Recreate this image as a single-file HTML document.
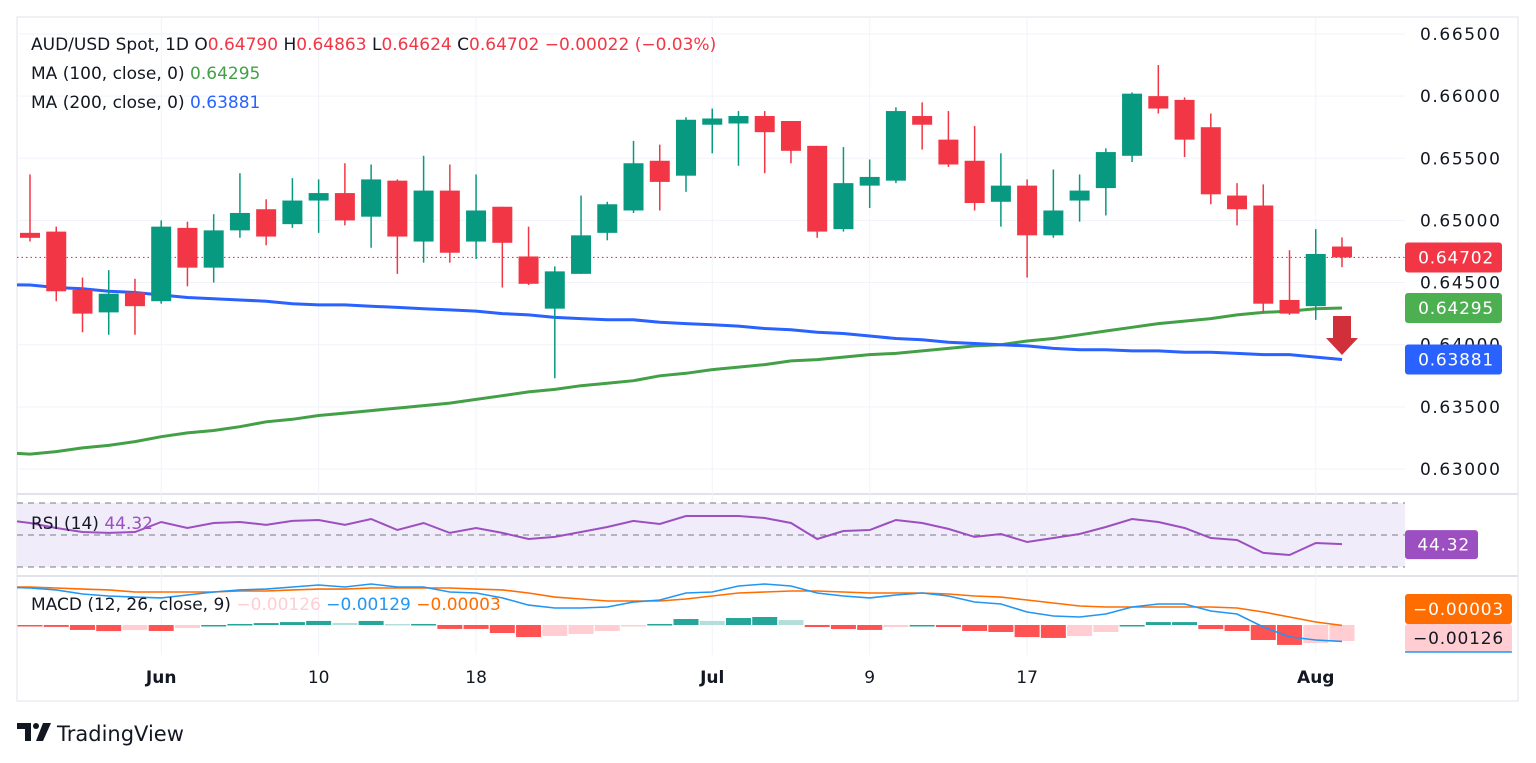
<!DOCTYPE html>
<html><head><meta charset="utf-8"><style>
html,body{margin:0;padding:0;background:#fff;width:1536px;height:763px;overflow:hidden;font-family:"DejaVu Sans","Liberation Sans",sans-serif;}
svg text{font-family:"DejaVu Sans","Liberation Sans",sans-serif;}
</style></head><body>
<svg id="c" width="1536" height="763" viewBox="0 0 1536 763"></svg>
<script>
const opens=[0.6490,0.6491,0.6444,0.6426,0.6442,0.6435,0.6494,0.6462,0.6492,0.6509,0.6497,0.6516,0.6522,0.6503,0.6532,0.6483,0.6524,0.6483,0.6511,0.6471,0.6429,0.6457,0.6490,0.6508,0.6548,0.6536,0.6577,0.6578,0.6584,0.6580,0.6560,0.6493,0.6528,0.6532,0.6584,0.6565,0.6548,0.6515,0.6528,0.6488,0.6516,0.6526,0.6552,0.6600,0.6597,0.6575,0.6520,0.6512,0.6436,0.6431,0.64790];
const highs=[0.6537,0.6495,0.6454,0.6460,0.6453,0.6500,0.6499,0.6505,0.6538,0.6517,0.6534,0.6533,0.6546,0.6545,0.6533,0.6552,0.6545,0.6537,0.6511,0.6495,0.6463,0.6520,0.6515,0.6564,0.6561,0.6583,0.6590,0.6588,0.6588,0.6580,0.6560,0.6559,0.6549,0.6591,0.6595,0.6588,0.6576,0.6554,0.6533,0.6541,0.6537,0.6558,0.6603,0.6625,0.6599,0.6586,0.6530,0.6529,0.6476,0.6493,0.64863];
const lows=[0.6483,0.6435,0.6410,0.6408,0.6408,0.6433,0.6447,0.6450,0.6486,0.6480,0.6494,0.6490,0.6496,0.6478,0.6457,0.6466,0.6466,0.6469,0.6446,0.6448,0.6373,0.6457,0.6484,0.6506,0.6508,0.6523,0.6554,0.6544,0.6538,0.6546,0.6486,0.6491,0.6510,0.6530,0.6557,0.6543,0.6508,0.6495,0.6454,0.6486,0.6499,0.6504,0.6547,0.6586,0.6551,0.6513,0.6496,0.6426,0.6424,0.6420,0.64624];
const closes=[0.6486,0.6443,0.6425,0.6441,0.6431,0.6495,0.6462,0.6492,0.6506,0.6487,0.6516,0.6522,0.6500,0.6533,0.6487,0.6524,0.6474,0.6508,0.6482,0.6449,0.6459,0.6488,0.6513,0.6546,0.6531,0.6581,0.6582,0.6584,0.6571,0.6556,0.6491,0.6530,0.6535,0.6588,0.6577,0.6545,0.6514,0.6528,0.6488,0.6508,0.6524,0.6555,0.6602,0.6590,0.6565,0.6521,0.6509,0.6433,0.6425,0.6473,0.64702];
const ma100=[0.6312,0.6314,0.6317,0.6319,0.6322,0.6326,0.6329,0.6331,0.6334,0.6338,0.6340,0.6343,0.6345,0.6347,0.6349,0.6351,0.6353,0.6356,0.6359,0.6362,0.6364,0.6367,0.6369,0.6371,0.6375,0.6377,0.6380,0.6382,0.6384,0.6387,0.6388,0.6390,0.6392,0.6393,0.6395,0.6397,0.6399,0.6400,0.6403,0.6405,0.6408,0.6411,0.6414,0.6417,0.6419,0.6421,0.6424,0.6426,0.6427,0.6429,0.64295];
const ma200=[0.6448,0.6446,0.6445,0.6443,0.6442,0.6440,0.6438,0.6437,0.6436,0.6435,0.6433,0.6432,0.6432,0.6431,0.6430,0.6429,0.6428,0.6427,0.6425,0.6424,0.6422,0.6421,0.6420,0.6420,0.6418,0.6417,0.6416,0.6415,0.6413,0.6412,0.6410,0.6409,0.6407,0.6405,0.6404,0.6402,0.6401,0.6400,0.6399,0.6397,0.6396,0.6396,0.6395,0.6395,0.6394,0.6394,0.6393,0.6392,0.6392,0.6390,0.63881];
const rsi=[57.5,54.4,51.9,51.3,51.9,58.1,54.4,57.5,58.1,56.3,58.8,59.4,56.3,60,53.1,57.5,51.3,54.4,51.3,47.5,48.8,51.9,55,58.8,56.9,61.9,61.9,61.9,60.6,57.5,47.5,52.5,53.1,59.4,57.5,53.8,48.8,50.6,45.6,48.1,50.6,55,60,58.1,54.4,48.1,46.9,38.8,37.5,45,44.32];
const macd=[0.00291,0.00276,0.00244,0.00228,0.00220,0.00213,0.00236,0.00260,0.00276,0.00283,0.00299,0.00315,0.00299,0.00323,0.00299,0.00299,0.00260,0.00252,0.00213,0.00157,0.00134,0.00134,0.00142,0.00181,0.00197,0.00252,0.00260,0.00307,0.00323,0.00307,0.00252,0.00228,0.00213,0.00236,0.00252,0.00228,0.00181,0.00165,0.00102,0.00071,0.00063,0.00087,0.00142,0.00165,0.00165,0.00110,0.00087,-0.00016,-0.00094,-0.00118,-0.00129];
const signal=[0.00299,0.00291,0.00283,0.00276,0.00260,0.00260,0.00260,0.00260,0.00268,0.00268,0.00276,0.00283,0.00283,0.00291,0.00291,0.00291,0.00291,0.00283,0.00276,0.00252,0.00220,0.00205,0.00189,0.00189,0.00189,0.00205,0.00228,0.00252,0.00260,0.00268,0.00268,0.00260,0.00252,0.00252,0.00252,0.00244,0.00228,0.00220,0.00197,0.00173,0.00150,0.00142,0.00142,0.00142,0.00142,0.00142,0.00134,0.00102,0.00063,0.00024,-0.00003];
const priceTicks=[0.665,0.660,0.655,0.650,0.645,0.640,0.635,0.630];
const dateLabels=["Jun","10","18","Jul","9","17","Aug"];
const dateIdx=[5,11,17,26,32,38,49];

const NS="http://www.w3.org/2000/svg";
const svg=document.getElementById('c');
function el(t,a,p){const e=document.createElementNS(NS,t);for(const k in a)e.setAttribute(k,a[k]);(p||svg).appendChild(e);return e;}
const X=i=>30+i*26.24;
const Y=p=>34+(0.665-p)/0.005*62.14;
const RY=v=>503+(70-v)*1.6;
const MY=v=>625-v*12700;
const GREEN="#089981",RED="#f23645";

let f=el('rect',{x:17,y:17,width:1501,height:684,fill:'none',stroke:'#e0e3eb'});


el('line',{x1:17,y1:494,x2:1518,y2:494,stroke:'#e0e3eb','stroke-width':2});
el('line',{x1:17,y1:576,x2:1518,y2:576,stroke:'#e0e3eb','stroke-width':2});
const grid=el('g',{stroke:'#f0f3fa'});


priceTicks.forEach(p=>el('line',{x1:17,y1:Y(p),x2:1405,y2:Y(p)},grid));
dateIdx.forEach(i=>{el('line',{x1:X(i),y1:17,x2:X(i),y2:494},grid);el('line',{x1:X(i),y1:494,x2:X(i),y2:655},grid);});
priceTicks.forEach(p=>{const t=el('text',{x:1420,y:Y(p)+6,'font-size':17,fill:'#131722','letter-spacing':'1.6'});t.textContent=p.toFixed(5);

});
dateLabels.forEach((d,k)=>{const t=el('text',{x:X(dateIdx[k]),y:683,'font-size':17,fill:'#131722','text-anchor':'middle','font-weight':(isNaN(+d)?'bold':'normal')});t.textContent=d;

});
const last=closes[closes.length-1];
el('line',{x1:17,y1:Y(last),x2:1405,y2:Y(last),stroke:RED,'stroke-dasharray':'1.5 3','stroke-width':1.2});
function pathOf(arr,fy){return arr.map((v,i)=>(i?'L':'M')+X(i).toFixed(1)+' '+fy(v).toFixed(1)).join(' ');}
let m1=el('path',{d:'M17 '+Y(ma100[0]+0.00005).toFixed(1)+' L'+pathOf(ma100,Y).slice(1),fill:'none',stroke:'#43a047','stroke-width':3});


let m2=el('path',{d:'M17 '+Y(ma200[0]+0.00001).toFixed(1)+' L'+pathOf(ma200,Y).slice(1),fill:'none',stroke:'#2962ff','stroke-width':3});


closes.forEach((c,i)=>{const o=opens[i],col=c>=o?GREEN:RED;const g=el('g',{});


el('line',{x1:X(i),x2:X(i),y1:Y(highs[i]),y2:Y(lows[i]),stroke:col,'stroke-width':1.5},g);
const t=Y(Math.max(o,c)),b=Y(Math.min(o,c));
el('rect',{x:X(i)-10,y:t,width:20,height:Math.max(1.5,b-t),fill:col},g);});
let ar=el('path',{d:'M1333 316 H1351 V338 H1358 L1342 355 L1326 338 H1333 Z',fill:'#d12f3a'});


function tag(y,h,w,bg,fg,txt,name){const g=el('g',{});


el('rect',{x:1405,y:y,width:w,height:h,rx:3,fill:bg},g);const t=el('text',{x:1405+w-8,y:y+h/2+6,'font-size':17,fill:fg,'text-anchor':'end','letter-spacing':'0.8'},g);t.textContent=txt;}
tag(Y(last)-15,30,97,RED,'#fff',last.toFixed(5),'last-price-tag');
tag(Y(ma100[50])-15,30,97,'#4caf50','#fff',ma100[50].toFixed(5),'ma100-tag');
tag(Y(ma200[50])-15,30,97,'#2962ff','#fff',ma200[50].toFixed(5),'ma200-tag');
let band=el('rect',{x:17,y:RY(70),width:1388,height:RY(30)-RY(70),fill:'#f0ecf9'});


[70,50,30].forEach(v=>el('line',{x1:17,x2:1405,y1:RY(v),y2:RY(v),stroke:'#787b86','stroke-dasharray':'6 5'}));
let rl=el('path',{d:'M17 '+RY(58.5)+' L'+pathOf(rsi,RY).slice(1),fill:'none',stroke:'#9c4fc0','stroke-width':2});


tag(RY(rsi[50])-14,29,73,'#9c4fc0','#fff',rsi[50].toFixed(2),'rsi-tag');
macd.forEach((m,i)=>{const h=m-signal[i],prev=i?macd[i-1]-signal[i-1]:h;let col;
if(h>=0)col=h>=prev?'#26a69a':'#b2dfdb';else col=h<=prev?'#ff5252':'#ffcdd2';
const y0=MY(0),y1=MY(h);const r=el('rect',{x:X(i)-12.5,y:Math.min(y0,y1),width:25,height:Math.max(1.5,Math.abs(y1-y0)),fill:col});

});
let sl=el('path',{d:'M17 '+MY(0.00299)+' L'+pathOf(signal,MY).slice(1),fill:'none',stroke:'#ff6d00','stroke-width':1.6});


let ml=el('path',{d:'M17 '+MY(0.00295)+' L'+pathOf(macd,MY).slice(1),fill:'none',stroke:'#2196f3','stroke-width':1.6});


tag(594,30,107,'#ff6d00','#fff','\u22120.00003','macd-signal-tag');
tag(624,28,107,'#ffcdd2','#131722','\u22120.00126','macd-hist-tag');
el('line',{x1:1405,x2:1512,y1:652,y2:652,stroke:'#2196f3','stroke-width':1.5});
function txt(x,y,parts,name,size){const t=el('text',{x:x,y:y,'font-size':size||17});


parts.forEach(([s,c])=>{const sp=el('tspan',{fill:c},t);sp.textContent=s;});}
txt(31,50,[['AUD/USD Spot, 1D  O','#131722'],['0.64790','#f23645'],['  H','#131722'],['0.64863','#f23645'],['  L','#131722'],['0.64624','#f23645'],['  C','#131722'],['0.64702  \u22120.00022 (\u22120.03%)','#f23645']],'symbol-legend');
txt(31,79,[['MA (100, close, 0)  ','#131722'],['0.64295','#43a047']],'ma100-legend');
txt(31,108,[['MA (200, close, 0)  ','#131722'],['0.63881','#2962ff']],'ma200-legend');
txt(31,529,[['RSI (14)  ','#131722'],['44.32','#9c4fc0']],'rsi-legend');
txt(31,610,[['MACD (12, 26, close, 9)  ','#131722'],['\u22120.00126','#ffcdd2'],['  \u22120.00129','#2196f3'],['  \u22120.00003','#ff6d00']],'macd-legend');
const lg=el('g',{});


el('path',{d:'M17 723 H31 V741 H25 V729 H17 Z',fill:'#131722'},lg);
el('circle',{cx:36,cy:726,r:3,fill:'#131722'},lg);
el('path',{d:'M43 723 H51 L43 741 H36 Z',fill:'#131722'},lg);
const lt=el('text',{x:57,y:741,'font-size':21,fill:'#131722'},lg);lt.textContent='TradingView';
</script>
</body></html>
